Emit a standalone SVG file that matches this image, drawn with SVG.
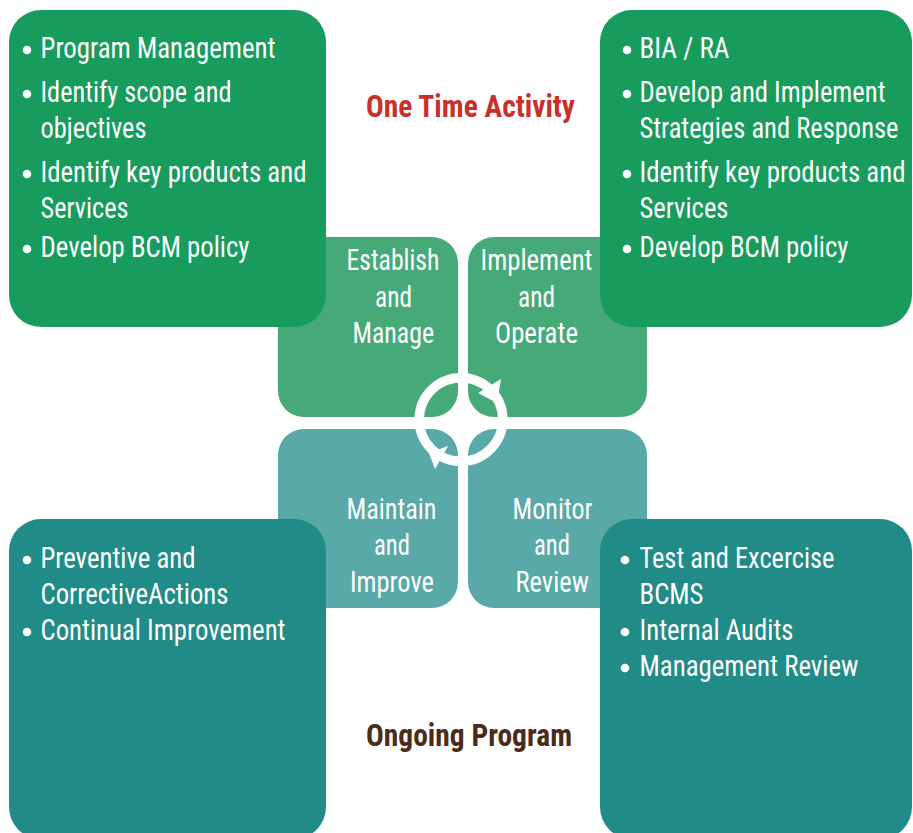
<svg xmlns="http://www.w3.org/2000/svg" width="913" height="833" viewBox="0 0 913 833">
<defs>
<style>
.big-top{fill:#179c5e}
.big-bot{fill:#218b87}
.mid-top{fill:#46aa78}
.mid-bot{fill:#58a9a8}
.t{font-family:"Roboto Condensed","Roboto","Liberation Sans",sans-serif;font-size:29px;fill:#ffffff;font-weight:400}
.c{text-anchor:middle}
.b{fill:#ffffff}
.title{font-family:"Roboto Condensed","Roboto","Liberation Sans",sans-serif;font-size:32px;font-weight:700}
</style>
</defs>
<rect width="913" height="833" fill="#ffffff"/>

<g id="establish">
<rect class="mid-top" x="278" y="237" width="180" height="180" rx="26"/>
<text class="t" x="346.5" y="270" textLength="93" lengthAdjust="spacingAndGlyphs">Establish</text>
<text class="t" x="375" y="306.5" textLength="37" lengthAdjust="spacingAndGlyphs">and</text>
<text class="t" x="352.5" y="343" textLength="81.5" lengthAdjust="spacingAndGlyphs">Manage</text>
</g>
<g id="implement">
<rect class="mid-top" x="468" y="237" width="179" height="180" rx="26"/>
<text class="t" x="480.5" y="270" textLength="112" lengthAdjust="spacingAndGlyphs">Implement</text>
<text class="t" x="518" y="306.5" textLength="37" lengthAdjust="spacingAndGlyphs">and</text>
<text class="t" x="495" y="343" textLength="83" lengthAdjust="spacingAndGlyphs">Operate</text>
</g>
<g id="maintain">
<rect class="mid-bot" x="278" y="429" width="180" height="179" rx="26"/>
<text class="t" x="346.5" y="518.5" textLength="90" lengthAdjust="spacingAndGlyphs">Maintain</text>
<text class="t" x="374" y="555" textLength="36" lengthAdjust="spacingAndGlyphs">and</text>
<text class="t" x="350" y="591.5" textLength="84" lengthAdjust="spacingAndGlyphs">Improve</text>
</g>
<g id="monitor">
<rect class="mid-bot" x="468" y="429" width="179" height="179" rx="26"/>
<text class="t" x="512.5" y="518.5" textLength="80" lengthAdjust="spacingAndGlyphs">Monitor</text>
<text class="t" x="534" y="555" textLength="36" lengthAdjust="spacingAndGlyphs">and</text>
<text class="t" x="515.5" y="591.5" textLength="73.5" lengthAdjust="spacingAndGlyphs">Review</text>
</g>

<g id="connectors">
<circle cx="461" cy="419.5" r="41.75" fill="none" stroke="#ffffff" stroke-width="9.5"/>
<polygon points="501,379 478,393 497,403" fill="#ffffff"/>
<polygon points="448,446 429,453 435,469" fill="#ffffff"/>
</g>

<g id="one-time-box">
<rect class="big-top" x="9" y="10" width="317" height="317" rx="32"/>
<circle class="b" cx="27" cy="50" r="4.3"/>
<circle class="b" cx="27" cy="94" r="4.3"/>
<circle class="b" cx="27" cy="174" r="4.3"/>
<circle class="b" cx="27" cy="249" r="4.3"/>
<text class="t" x="40.5" y="58" textLength="235" lengthAdjust="spacingAndGlyphs">Program Management</text>
<text class="t" x="40.5" y="102" textLength="191" lengthAdjust="spacingAndGlyphs">Identify scope and</text>
<text class="t" x="40.5" y="138" textLength="106" lengthAdjust="spacingAndGlyphs">objectives</text>
<text class="t" x="40.5" y="182" textLength="266" lengthAdjust="spacingAndGlyphs">Identify key products and</text>
<text class="t" x="40.5" y="218" textLength="88" lengthAdjust="spacingAndGlyphs">Services</text>
<text class="t" x="40.5" y="257" textLength="209" lengthAdjust="spacingAndGlyphs">Develop BCM policy</text>
</g>

<g id="implement-box">
<rect class="big-top" x="600" y="10" width="312" height="317" rx="32"/>
<circle class="b" cx="627" cy="50" r="4.3"/>
<circle class="b" cx="627" cy="94" r="4.3"/>
<circle class="b" cx="627" cy="174" r="4.3"/>
<circle class="b" cx="627" cy="249" r="4.3"/>
<text class="t" x="639.5" y="58" textLength="90" lengthAdjust="spacingAndGlyphs">BIA / RA</text>
<text class="t" x="639.5" y="102" textLength="246" lengthAdjust="spacingAndGlyphs">Develop and Implement</text>
<text class="t" x="639.5" y="138" textLength="259" lengthAdjust="spacingAndGlyphs">Strategies and Response</text>
<text class="t" x="639.5" y="182" textLength="266" lengthAdjust="spacingAndGlyphs">Identify key products and</text>
<text class="t" x="639.5" y="218" textLength="89" lengthAdjust="spacingAndGlyphs">Services</text>
<text class="t" x="639.5" y="257" textLength="209" lengthAdjust="spacingAndGlyphs">Develop BCM policy</text>
</g>

<g id="improve-box">
<rect class="big-bot" x="9" y="519" width="317" height="320" rx="32"/>
<circle class="b" cx="27" cy="560" r="4.3"/>
<circle class="b" cx="27" cy="632" r="4.3"/>
<text class="t" x="40.5" y="568" textLength="155" lengthAdjust="spacingAndGlyphs">Preventive and</text>
<text class="t" x="40.5" y="604" textLength="188" lengthAdjust="spacingAndGlyphs">CorrectiveActions</text>
<text class="t" x="40.5" y="640" textLength="245" lengthAdjust="spacingAndGlyphs">Continual Improvement</text>
</g>

<g id="review-box">
<rect class="big-bot" x="600" y="519" width="312" height="320" rx="32"/>
<circle class="b" cx="625" cy="560" r="4.3"/>
<circle class="b" cx="625" cy="632" r="4.3"/>
<circle class="b" cx="625" cy="668" r="4.3"/>
<text class="t" x="639.5" y="568" textLength="195" lengthAdjust="spacingAndGlyphs">Test and Excercise</text>
<text class="t" x="639.5" y="604" textLength="64" lengthAdjust="spacingAndGlyphs">BCMS</text>
<text class="t" x="639.5" y="640" textLength="154" lengthAdjust="spacingAndGlyphs">Internal Audits</text>
<text class="t" x="639.5" y="676" textLength="219" lengthAdjust="spacingAndGlyphs">Management Review</text>
</g>

<g id="title-one-time">
<text class="title" x="366" y="117" fill="#c9302c" textLength="209" lengthAdjust="spacingAndGlyphs">One Time Activity</text>
</g>
<g id="title-ongoing">
<text class="title" x="366" y="746" fill="#4b2b1a" textLength="206" lengthAdjust="spacingAndGlyphs">Ongoing Program</text>
</g>
</svg>
